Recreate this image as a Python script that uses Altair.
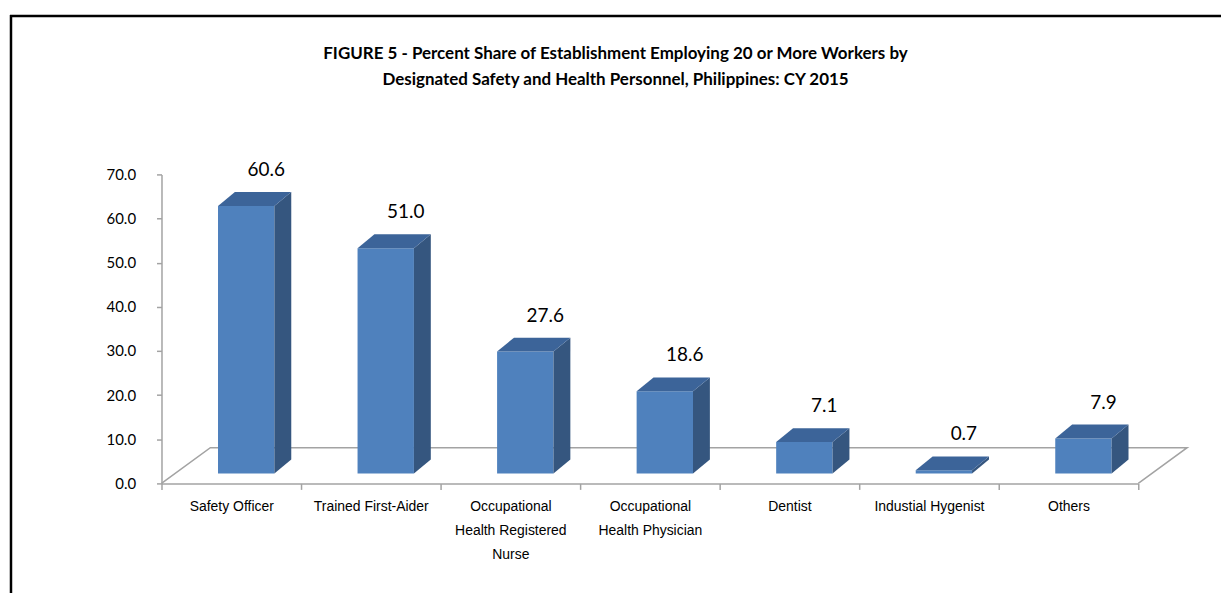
import json
import pandas as pd
import altair as alt

# ---------------- data ----------------
CATEGORIES = [
    "Safety Officer",
    "Trained First-Aider",
    "Occupational Health Registered Nurse",
    "Occupational Health Physician",
    "Dentist",
    "Industial Hygenist",
    "Others",
]
VALUES = [60.6, 51.0, 27.6, 18.6, 7.1, 0.7, 7.9]
TICK_LABELS = [
    ["Safety Officer"],
    ["Trained First-Aider"],
    ["Occupational", "Health Registered", "Nurse"],
    ["Occupational", "Health Physician"],
    ["Dentist"],
    ["Industial Hygenist"],
    ["Others"],
]
Y_TICKS = [0, 10, 20, 30, 40, 50, 60, 70]
TITLE_LINES = [
    "FIGURE 5 - Percent Share of Establishment Employing 20 or More Workers by",
    "Designated Safety and Health Personnel, Philippines: CY 2015",
]

# ---------------- geometry / style ----------------
N = len(CATEGORIES)
W, H = 980, 310
FRONT_L, FRONT_R = 0.405, 0.809      # front face within a category slot
DEPTH_X, DEPTH_Y = 0.121, 3.16       # bar depth (x units, value units)
BASE = 2.26                          # bar base lifted onto the floor
FLOOR_DX, FLOOR_DY = 0.35, 8.1       # floor depth
LABEL_X = 0.75

GRAY = "#A3A3A3"
FRONT = "#4F81BD"
SIDE = "#35567F"
TOP = "#3C6499"
FONT = "Lato"

bars = pd.DataFrame({
    "cat": CATEGORIES,
    "i": list(range(N)),
    "v": VALUES,
})
bars["x0"] = bars["i"] + FRONT_L
bars["x1"] = bars["i"] + FRONT_R
bars["base"] = BASE
bars["top"] = BASE + bars["v"]
bars["lx"] = bars["i"] + LABEL_X
bars["ly"] = BASE + bars["v"] + DEPTH_Y
bars["label"] = [f"{v:.1f}" for v in VALUES]

side_rows, top_rows = [], []
for c, i, v in zip(CATEGORIES, range(N), VALUES):
    side_rows.append({"cat": c, "x": i + FRONT_R, "lo": BASE, "hi": BASE + v})
    side_rows.append({"cat": c, "x": i + FRONT_R + DEPTH_X,
                      "lo": BASE + DEPTH_Y, "hi": BASE + v + DEPTH_Y})
    top_rows.append({"cat": c, "y": BASE + v, "xa": i + FRONT_L, "xb": i + FRONT_R})
    top_rows.append({"cat": c, "y": BASE + v + DEPTH_Y,
                     "xa": i + FRONT_L + DEPTH_X, "xb": i + FRONT_R + DEPTH_X})
side = pd.DataFrame(side_rows)
topf = pd.DataFrame(top_rows)

floor = pd.DataFrame({
    "x": [0, FLOOR_DX, N + FLOOR_DX, N],
    "y": [0, FLOOR_DY, FLOOR_DY, 0],
    "o": [0, 1, 2, 3],
})

# ---------------- scales & axes ----------------
xscale = alt.Scale(domain=[0, N], nice=False, zero=False)
yscale = alt.Scale(domain=[0, 70], nice=False)

x_axis = alt.Axis(
    values=list(range(N + 1)),
    labelExpr=json.dumps(TICK_LABELS) + "[datum.value] || ''",
    labelOffset=W / N / 2,
    labelFont="Liberation Sans",
    labelFontSize=14,
    labelLineHeight=24,
    labelColor="#000000",
    labelPadding=10,
    labelOverlap=False,
    labelFlush=False,
    labelAlign="center",
    labelBaseline="top",
    tickSize=6,
    tickColor=GRAY,
    tickWidth=1.5,
    domainColor=GRAY,
    domainWidth=1.5,
    grid=False,
)
y_axis = alt.Axis(
    values=Y_TICKS,
    format=".1f",
    labelFont=FONT,
    labelFontSize=15,
    labelColor="#000000",
    labelPadding=21,
    tickSize=5,
    tickColor=GRAY,
    tickWidth=1.5,
    domainColor=GRAY,
    domainWidth=1.5,
    grid=False,
)


def X(f):
    return alt.X(f"{f}:Q", scale=xscale, axis=x_axis, title=None)


def Y(f):
    return alt.Y(f"{f}:Q", scale=yscale, axis=y_axis, title=None)


one = alt.Data(values=[{"k": 1}])

floor_layer = alt.Chart(floor).mark_line(color=GRAY, strokeWidth=1.5).encode(
    x=X("x"), y=Y("y"), order="o:Q"
)
front_layer = alt.Chart(bars).mark_rect(color=FRONT).encode(
    x=X("x0"), x2=alt.X2("x1"), y=Y("base"), y2=alt.Y2("top")
)
side_layer = alt.Chart(side).mark_area(color=SIDE, orient="vertical").encode(
    x=X("x"), y=Y("lo"), y2=alt.Y2("hi"), detail="cat:N"
)
top_layer = alt.Chart(topf).mark_area(color=TOP, orient="horizontal").encode(
    y=Y("y"), x=X("xa"), x2=alt.X2("xb"), detail="cat:N"
)
label_layer = alt.Chart(bars).mark_text(
    font=FONT, fontSize=19, color="#000000", dy=-22, baseline="middle", align="center"
).encode(x=X("lx"), y=Y("ly"), text="label:N")

title_layer = alt.Chart(one).mark_text(
    text=TITLE_LINES, font=FONT, fontSize=17, fontWeight="bold", color="#000000",
    lineHeight=26, baseline="middle", align="center"
).encode(x=alt.value(455.5), y=alt.value(-121))

frame_top = alt.Chart(one).mark_rule(color="#000000", strokeWidth=2.5).encode(
    x=alt.value(-152), x2=alt.value(1063), y=alt.value(-159)
)
frame_left = alt.Chart(one).mark_rule(color="#000000", strokeWidth=2.5).encode(
    x=alt.value(-151), y=alt.value(-160), y2=alt.value(420)
)

chart = alt.layer(
    frame_top, frame_left, floor_layer, front_layer, side_layer, top_layer,
    label_layer, title_layer
).properties(
    width=W, height=H,
    padding={"left": 0, "top": 4, "right": 0, "bottom": 0},
).configure_view(strokeWidth=0)

chart.save("out.html", embed_options={"renderer": "svg", "actions": False})
